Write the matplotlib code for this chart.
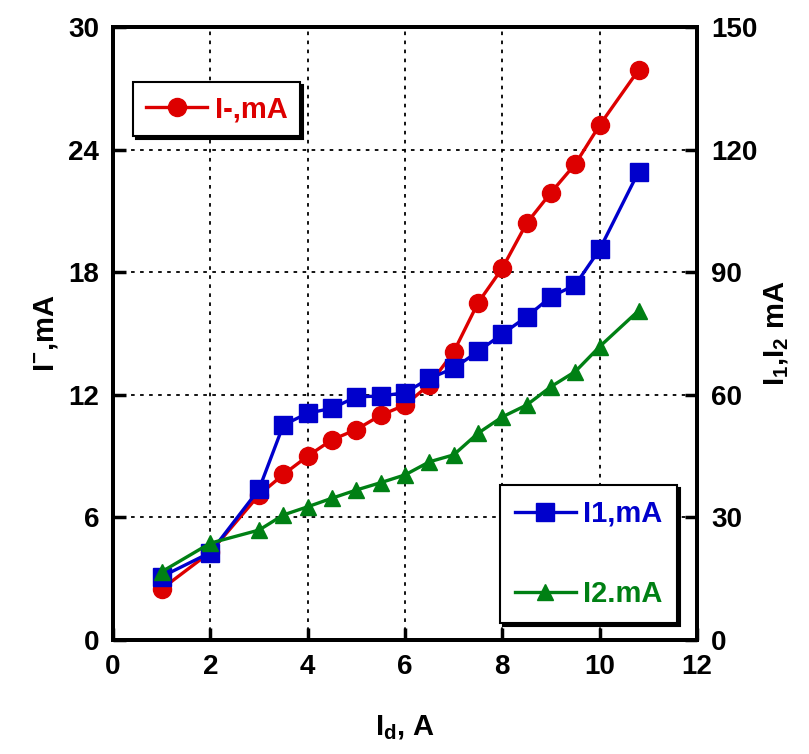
import matplotlib
matplotlib.use("Agg")
import matplotlib.pyplot as plt

plt.rcParams['font.family'] = ['Liberation Sans', 'DejaVu Sans']
plt.rcParams['font.weight'] = 'bold'
plt.rcParams['mathtext.fontset'] = 'custom'
plt.rcParams['mathtext.rm'] = 'Liberation Sans:bold'
plt.rcParams['mathtext.it'] = 'Liberation Sans:bold'
plt.rcParams['mathtext.bf'] = 'Liberation Sans:bold'

# Data
id_red = [1, 2, 3, 3.5, 4, 4.5, 5, 5.5, 6, 6.5, 7, 7.5, 8, 8.5, 9, 9.5, 10, 10.8]
i_minus = [2.5, 4.3, 7.1, 8.1, 9.0, 9.8, 10.3, 11.0, 11.5, 12.5, 14.1, 16.5, 18.2, 20.4, 21.9, 23.3, 25.2, 27.9]

id_blue = [1, 2, 3, 3.5, 4, 4.5, 5, 5.5, 6, 6.5, 7, 7.5, 8, 8.5, 9, 9.5, 10, 10.8]
i1 = [15.5, 21.4, 36.9, 52.6, 55.5, 56.7, 59.5, 59.7, 60.5, 64.0, 66.5, 70.6, 74.9, 79.1, 84.0, 86.9, 95.6, 114.6]

id_green = [1, 2, 3, 3.5, 4, 4.5, 5, 5.5, 6, 6.5, 7, 7.5, 8, 8.5, 9, 9.5, 10, 10.8]
i2 = [16.7, 23.7, 26.9, 30.6, 32.6, 34.7, 36.7, 38.5, 40.4, 43.6, 45.3, 50.6, 54.6, 57.5, 62.0, 65.7, 71.8, 80.6]

x_ticks = [0, 2, 4, 6, 8, 10, 12]
y_left_ticks = [0, 6, 12, 18, 24, 30]
y_right_ticks = [0, 30, 60, 90, 120, 150]

RED = '#dd0000'
BLUE = '#0000cc'
GREEN = '#008014'

fig = plt.figure(figsize=(8.09, 7.54), dpi=100)
ax = fig.add_axes([0.1397, 0.1512, 0.7219, 0.8130])
ax2 = ax.twinx()

l1, = ax.plot(id_red, i_minus, color=RED, marker='o', markersize=13, lw=2.4, label='I-,mA')
l2, = ax2.plot(id_blue, i1, color=BLUE, marker='s', markersize=13, lw=2.4, label='I1,mA')
l3, = ax2.plot(id_green, i2, color=GREEN, marker='^', markersize=11, lw=2.4, label='I2.mA')

ax.set_xlim(0, 12)
ax.set_ylim(0, 30)
ax2.set_ylim(0, 150)
ax.set_xticks(x_ticks)
ax.set_yticks(y_left_ticks)
ax2.set_yticks(y_right_ticks)

ax.grid(True, color='black', linestyle=(0, (2, 3)), linewidth=1.3)

for a in (ax, ax2):
    for s in a.spines.values():
        s.set_linewidth(2.8)
    a.tick_params(direction='in', length=9, width=2.5, labelsize=20)
ax.tick_params(axis='x', pad=10)
ax.tick_params(axis='y', pad=10)
ax2.tick_params(axis='y', pad=10)
for lab in ax.get_xticklabels() + ax.get_yticklabels() + ax2.get_yticklabels():
    lab.set_fontweight('bold')

ax.set_xlabel(r'I$_\mathregular{d}$, A', fontsize=21, fontweight='bold', labelpad=24)
ax.set_ylabel(r'I$^{\mathregular{-}}$,mA', fontsize=21, fontweight='bold', labelpad=6)
ax2.set_ylabel(r'I$_\mathregular{1}$,I$_\mathregular{2}$ mA', fontsize=21, fontweight='bold', labelpad=4)

leg1 = ax2.legend(handles=[l1], loc='upper left', bbox_to_anchor=(0.034, 0.91),
                  fontsize=21, frameon=True, fancybox=False, edgecolor='black',
                  framealpha=1, shadow={'color': 'black', 'alpha': 1},
                  handlelength=2.1, borderpad=0.45, handletextpad=0.25, borderaxespad=0)
leg1.get_frame().set_linewidth(1.5)
for t, c in zip(leg1.get_texts(), [RED]):
    t.set_color(c)
ax2.add_artist(leg1)

leg2 = ax2.legend(handles=[l2, l3], loc='lower right', bbox_to_anchor=(0.966, 0.028),
                  fontsize=21, frameon=True, fancybox=False, edgecolor='black',
                  framealpha=1, shadow={'color': 'black', 'alpha': 1},
                  handlelength=2.1, borderpad=0.5, handletextpad=0.25, labelspacing=1.8,
                  borderaxespad=0)
leg2.get_frame().set_linewidth(1.5)
for t, c in zip(leg2.get_texts(), [BLUE, GREEN]):
    t.set_color(c)

fig.savefig('out.png', dpi=100)
